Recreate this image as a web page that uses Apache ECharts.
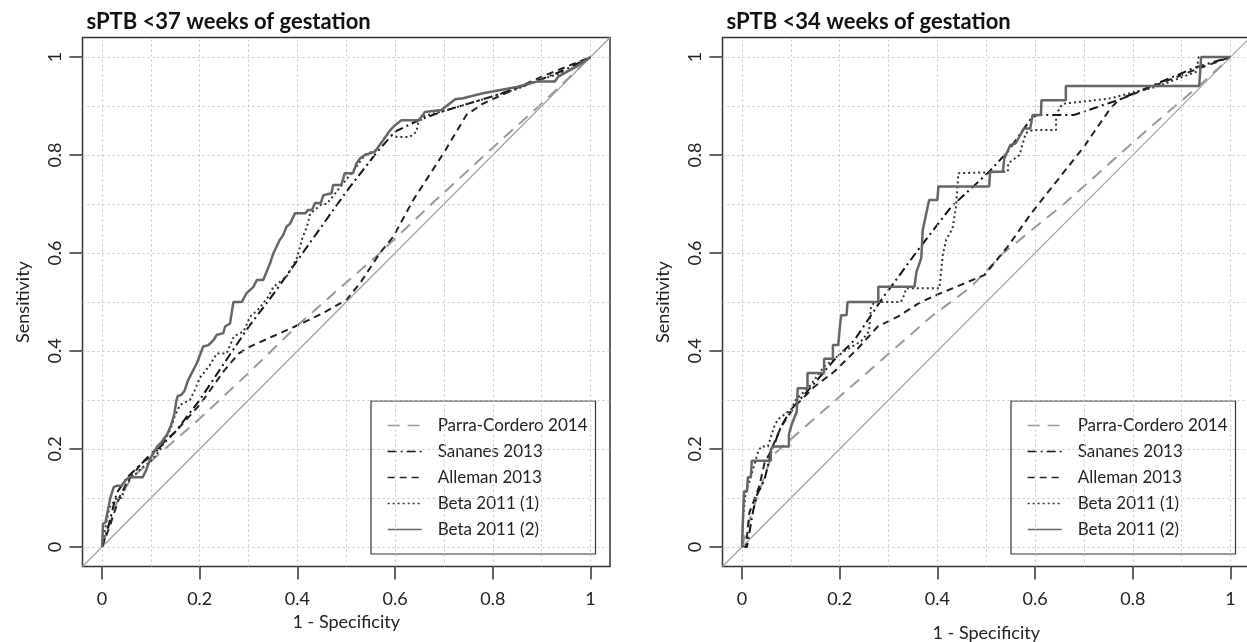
<!DOCTYPE html>
<html>
<head>
<meta charset="utf-8">
<script src="https://cdn.jsdelivr.net/npm/echarts@6/dist/echarts.min.js"></script>
<style>
  html, body { margin: 0; padding: 0; background: #fff; }
  #roc { width: 1247px; height: 642px; }
</style>
</head>
<body>
<div id="roc"></div>
<script>
// gridlines and the reference diagonal
var gridValues = [0, 0.1, 0.2, 0.3, 0.4, 0.5, 0.6, 0.7, 0.8, 0.9, 1];
var diagLine = [[-0.04, -0.04], [1.04, 1.04]];

var panelTitles = ['sPTB <37 weeks of gestation', 'sPTB <34 weeks of gestation'];
var seriesNames = ['Parra-Cordero 2014', 'Sananes 2013', 'Alleman 2013', 'Beta 2011 (1)', 'Beta 2011 (2)'];

// ---- sPTB <37 weeks (left) ----
var parra37 = [[0,0],[0.03,0.09],[0.06,0.14],[0.1,0.175],[0.2,0.262],[0.3,0.355],[0.4,0.452],[0.5,0.54],[0.56,0.592],[0.68,0.705],[0.8,0.815],[0.9,0.905],[1,1]];
var sananes37 = [[0,0],[0.015,0.05],[0.03,0.11],[0.05,0.14],[0.08,0.17],[0.1,0.185],[0.15,0.235],[0.2,0.3],[0.25,0.375],[0.3,0.449],[0.35,0.515],[0.4,0.585],[0.45,0.655],[0.5,0.725],[0.562,0.805],[0.6,0.848],[0.65,0.872],[0.7,0.89],[0.75,0.905],[0.8,0.92],[0.85,0.937],[0.9,0.955],[0.95,0.975],[1,1]];
var alleman37 = [[0,0],[0.015,0.04],[0.035,0.1],[0.05,0.13],[0.08,0.17],[0.1,0.19],[0.15,0.235],[0.2,0.29],[0.25,0.36],[0.28,0.395],[0.303,0.409],[0.35,0.43],[0.395,0.45],[0.45,0.476],[0.5,0.504],[0.528,0.538],[0.569,0.6],[0.596,0.633],[0.637,0.708],[0.7,0.805],[0.746,0.882],[0.78,0.905],[0.85,0.937],[0.9,0.96],[1,1]];
var beta1_37 = [[0,0],[0.005,0.03],[0.015,0.08],[0.03,0.1],[0.04,0.1],[0.05,0.13],[0.08,0.16],[0.1,0.175],[0.12,0.2],[0.14,0.24],[0.15,0.27],[0.16,0.29],[0.18,0.3],[0.19,0.32],[0.2,0.345],[0.22,0.37],[0.235,0.395],[0.255,0.395],[0.27,0.43],[0.29,0.44],[0.303,0.47],[0.32,0.485],[0.34,0.51],[0.351,0.531],[0.378,0.552],[0.399,0.59],[0.41,0.63],[0.42,0.655],[0.426,0.68],[0.45,0.7],[0.46,0.7],[0.48,0.725],[0.5,0.75],[0.52,0.775],[0.538,0.8],[0.56,0.81],[0.586,0.844],[0.603,0.837],[0.63,0.837],[0.644,0.848],[0.647,0.865],[0.66,0.88],[0.7,0.89],[0.75,0.905],[0.8,0.92],[0.85,0.935],[0.9,0.955],[0.95,0.97],[1,1]];
var beta2_37 = [[0,0],[0.002,0.047],[0.007,0.05],[0.017,0.1],[0.024,0.122],[0.031,0.125],[0.04,0.125],[0.048,0.136],[0.055,0.142],[0.083,0.142],[0.09,0.156],[0.1,0.183],[0.114,0.206],[0.121,0.213],[0.134,0.231],[0.141,0.248],[0.148,0.271],[0.152,0.298],[0.155,0.308],[0.162,0.31],[0.169,0.319],[0.176,0.34],[0.194,0.375],[0.207,0.409],[0.218,0.412],[0.228,0.422],[0.235,0.433],[0.248,0.436],[0.252,0.45],[0.262,0.456],[0.269,0.5],[0.286,0.5],[0.296,0.518],[0.31,0.531],[0.317,0.545],[0.33,0.545],[0.344,0.579],[0.351,0.6],[0.364,0.627],[0.37,0.635],[0.378,0.654],[0.385,0.66],[0.395,0.681],[0.416,0.681],[0.422,0.688],[0.43,0.688],[0.436,0.702],[0.448,0.702],[0.453,0.718],[0.47,0.722],[0.473,0.739],[0.49,0.739],[0.497,0.763],[0.514,0.763],[0.521,0.783],[0.528,0.793],[0.538,0.8],[0.559,0.807],[0.566,0.817],[0.576,0.831],[0.583,0.841],[0.59,0.851],[0.6,0.861],[0.613,0.871],[0.648,0.871],[0.657,0.882],[0.661,0.888],[0.695,0.892],[0.723,0.914],[0.739,0.916],[0.78,0.926],[0.849,0.939],[0.89,0.95],[0.927,0.95],[0.934,0.96],[0.97,0.98],[1,1]];

// ---- sPTB <34 weeks (right) ----
var parra34 = [[0,0],[0.02,0.07],[0.06,0.184],[0.1,0.22],[0.223,0.327],[0.387,0.47],[0.469,0.531],[0.534,0.599],[0.66,0.701],[0.837,0.858],[0.94,0.945],[1,1]];
var sananes34 = [[0,0],[0.01,0],[0.022,0.07],[0.03,0.105],[0.046,0.137],[0.059,0.191],[0.08,0.246],[0.1,0.28],[0.148,0.334],[0.189,0.382],[0.23,0.422],[0.285,0.504],[0.305,0.531],[0.36,0.606],[0.428,0.694],[0.506,0.766],[0.544,0.807],[0.592,0.875],[0.605,0.882],[0.68,0.882],[0.769,0.912],[0.838,0.941],[0.928,0.979],[1,1]];
var alleman34 = [[0,0],[0.008,0],[0.015,0.07],[0.035,0.123],[0.046,0.171],[0.056,0.19],[0.08,0.245],[0.107,0.286],[0.148,0.327],[0.189,0.358],[0.237,0.405],[0.278,0.45],[0.319,0.47],[0.366,0.5],[0.407,0.518],[0.448,0.535],[0.496,0.555],[0.544,0.613],[0.592,0.681],[0.646,0.749],[0.7,0.817],[0.752,0.892],[0.77,0.912],[0.84,0.94],[0.93,0.975],[1,1]];
var beta1_34 = [[0,0],[0.002,0.06],[0.008,0.115],[0.014,0.13],[0.02,0.15],[0.032,0.191],[0.039,0.205],[0.053,0.205],[0.066,0.246],[0.073,0.26],[0.1,0.28],[0.11,0.3],[0.14,0.33],[0.168,0.368],[0.186,0.382],[0.21,0.4],[0.244,0.42],[0.26,0.44],[0.264,0.49],[0.271,0.5],[0.325,0.5],[0.332,0.514],[0.336,0.528],[0.404,0.528],[0.411,0.596],[0.418,0.627],[0.431,0.65],[0.438,0.694],[0.443,0.763],[0.445,0.766],[0.544,0.766],[0.545,0.783],[0.568,0.8],[0.581,0.845],[0.595,0.851],[0.643,0.851],[0.643,0.882],[0.654,0.902],[0.66,0.905],[0.75,0.915],[0.85,0.94],[0.93,0.97],[0.935,1],[1,1]];
var beta2_34 = [[0,0],[0.002,0.06],[0.004,0.113],[0.01,0.113],[0.012,0.142],[0.018,0.142],[0.02,0.176],[0.059,0.176],[0.059,0.2],[0.065,0.205],[0.096,0.205],[0.096,0.23],[0.102,0.251],[0.112,0.276],[0.114,0.324],[0.134,0.324],[0.134,0.355],[0.168,0.355],[0.168,0.384],[0.186,0.384],[0.186,0.412],[0.197,0.412],[0.2,0.446],[0.203,0.473],[0.214,0.473],[0.216,0.5],[0.279,0.5],[0.279,0.531],[0.353,0.531],[0.357,0.561],[0.367,0.59],[0.37,0.647],[0.383,0.708],[0.4,0.708],[0.402,0.736],[0.506,0.736],[0.508,0.766],[0.534,0.766],[0.537,0.793],[0.549,0.82],[0.56,0.824],[0.577,0.854],[0.59,0.854],[0.595,0.882],[0.612,0.882],[0.613,0.912],[0.663,0.912],[0.663,0.941],[0.936,0.941],[0.94,1],[1,1]];

var panelData = [
  [parra37, sananes37, alleman37, beta1_37, beta2_37],
  [parra34, sananes34, alleman34, beta1_34, beta2_34]
];

// line looks, same order as seriesNames
var looks = [
  { color: '#999999', width: 2, type: [12, 8] },
  { color: '#111111', width: 2, type: [9, 4, 2, 4] },
  { color: '#222222', width: 2, type: [7, 5] },
  { color: '#333333', width: 2, type: [2, 3] },
  { color: '#666666', width: 2.5, type: 'solid' }
];

var font = 'Lato, "Open Sans", sans-serif';
var gridLefts = [82.5, 722.5];
var xNameGaps = [47, 58];
// plot box spans -0.04..1.04, the labelled axes span 0..1
var boxW = 527.5, boxH = 529, boxTop = 37.5;
var padX = boxW * 0.04 / 1.08, padY = boxH * 0.04 / 1.08;

var myChart = echarts.init(document.getElementById('roc'), null, { renderer: 'canvas' });

var grids = [], xAxes = [], yAxes = [], series = [], titles = [], legends = [];
var txt = { fontSize: 18, fontFamily: font, color: '#222' };
var tick = { show: true, length: 13, lineStyle: { color: '#333', width: 1.5 } };
var hidden = { type: 'value', min: 0, max: 1, show: false };

// grids 0,1: frame and curves on -0.04..1.04
for (var p = 0; p < 2; p++) {
  grids.push({
    left: gridLefts[p], top: boxTop, width: boxW, height: boxH, outerBoundsMode: 'none',
    show: true, borderColor: '#333', borderWidth: 1.5, backgroundColor: 'transparent'
  });
  xAxes.push({ gridIndex: p, type: 'value', min: -0.04, max: 1.04, show: false });
  yAxes.push({ gridIndex: p, type: 'value', min: -0.04, max: 1.04, show: false });
}
// grids 2,3: x ticks 0..1 sitting on the frame's bottom edge
for (var p = 0; p < 2; p++) {
  grids.push({
    left: gridLefts[p] + padX, top: boxTop, width: boxW - 2 * padX, height: boxH,
    outerBoundsMode: 'none', show: false
  });
  xAxes.push({
    gridIndex: 2 + p, type: 'value', min: 0, max: 1, interval: 0.2,
    axisLine: { show: false, onZero: false }, splitLine: { show: false },
    axisTick: tick,
    axisLabel: Object.assign({ margin: 24 }, txt),
    name: '1 - Specificity', nameLocation: 'middle', nameGap: xNameGaps[p], nameTextStyle: txt
  });
  yAxes.push(Object.assign({ gridIndex: 2 + p }, hidden));
}
// grids 4,5: y ticks 0..1 sitting on the frame's left edge
for (var p = 0; p < 2; p++) {
  grids.push({
    left: gridLefts[p], top: boxTop + padY, width: boxW, height: boxH - 2 * padY,
    outerBoundsMode: 'none', show: false
  });
  xAxes.push(Object.assign({ gridIndex: 4 + p }, hidden));
  yAxes.push({
    gridIndex: 4 + p, type: 'value', min: 0, max: 1, interval: 0.2,
    axisLine: { show: false, onZero: false }, splitLine: { show: false },
    axisTick: tick,
    axisLabel: Object.assign({ margin: 18, rotate: 90 }, txt),
    name: 'Sensitivity', nameLocation: 'middle', nameGap: 50, nameTextStyle: txt
  });
}

for (var p = 0; p < 2; p++) {
  titles.push({
    text: panelTitles[p], left: gridLefts[p] - 1, top: 6,
    textStyle: { fontSize: 22, fontWeight: 'bold', fontFamily: font, color: '#111' }
  });
  legends.push({
    data: seriesNames, orient: 'vertical',
    left: gridLefts[p] + 288.5, top: 401,
    padding: [16, 8, 16, 16], itemGap: 9, itemWidth: 34, itemHeight: 14,
    borderColor: '#333', borderWidth: 1.2, backgroundColor: '#fff',
    lineStyle: { width: 1.3 },
    itemStyle: { color: 'transparent', borderWidth: 0, opacity: 0 },
    selectedMode: false,
    textStyle: { fontSize: 17, fontFamily: font, color: '#222', padding: [0, 0, 0, 11] }
  });

  // reference diagonal, also carries the dotted grid
  series.push({
    type: 'line', xAxisIndex: p, yAxisIndex: p, data: diagLine,
    symbol: 'none', silent: true, z: 1, animation: false,
    lineStyle: { color: '#a0a0a0', width: 1.2 },
    markLine: {
      silent: true, symbol: ['none', 'none'], label: { show: false }, animation: false,
      lineStyle: { color: '#c4c4c4', width: 1, type: [2, 3] },
      data: gridValues.map(function (v) { return { xAxis: v }; })
        .concat(gridValues.map(function (v) { return { yAxis: v }; }))
    }
  });

  for (var s = 0; s < seriesNames.length; s++) {
    series.push({
      name: seriesNames[s], type: 'line', xAxisIndex: p, yAxisIndex: p,
      data: panelData[p][s], symbol: 'none', showSymbol: false,
      animation: false, z: 2 + s,
      itemStyle: { color: looks[s].color },
      lineStyle: { color: looks[s].color, width: looks[s].width, type: looks[s].type }
    });
  }
}

var option = {
  backgroundColor: '#fff',
  title: titles,
  legend: legends,
  grid: grids,
  xAxis: xAxes,
  yAxis: yAxes,
  series: series
};

myChart.setOption(option);
</script>
</body>
</html>
